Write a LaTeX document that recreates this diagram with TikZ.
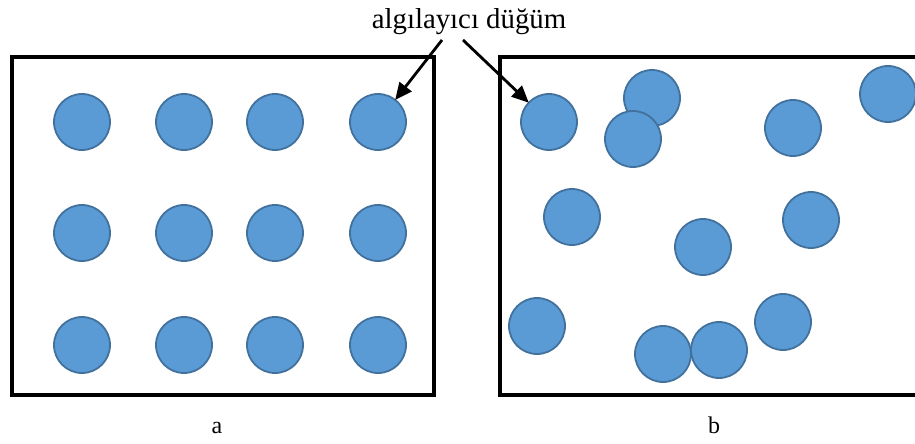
\documentclass[tikz,border=0pt]{standalone}
\usepackage{fontspec}
\setmainfont{Liberation Serif}
\usetikzlibrary{arrows.meta}
\definecolor{nodefill}{HTML}{5B9BD5}
\definecolor{nodeedge}{HTML}{41719C}
\tikzset{
  sensor/.style={circle, fill=nodefill, draw=nodeedge, line width=1.8pt, minimum size=56pt, inner sep=0pt},
  field/.style={draw=black, line width=4pt},
  pointer/.style={line width=2.8pt, -{Triangle[length=17pt,width=15pt]}, shorten >=-1pt},
  caption/.style={font=\fontsize{28.8}{32}\selectfont, inner sep=0pt, anchor=base},
  sublabel/.style={font=\fontsize{24}{28}\selectfont, inner sep=0pt, anchor=base}
}
\begin{document}
\begin{tikzpicture}[x=1pt,y=-1pt]
\useasboundingbox (0,0) rectangle (915,444);
\begin{scope}
\clip (0,0) rectangle (915,444);
% boxes
\draw[field] (12,57) rectangle (434,395);
\draw[field] (500,57) rectangle (940,395);
\end{scope}
% grid a
\foreach \c/\x in {1/82,2/184,3/275,4/378}{
  \foreach \r/\y in {1/122,2/233,3/345}{
    \node[sensor] (a\r\c) at (\x,\y) {};
  }
}
% random b
\node[sensor] (b1) at (549,122) {};
\node[sensor] (b2) at (652,98) {};
\node[sensor] (b3) at (633,139) {};
\node[sensor] (b4) at (793,128) {};
\node[sensor] (b5) at (888,94) {};
\node[sensor] (b6) at (572,217) {};
\node[sensor] (b7) at (703,247) {};
\node[sensor] (b8) at (811,220) {};
\node[sensor] (b9) at (537,326) {};
\node[sensor] (b10) at (663,354) {};
\node[sensor] (b11) at (719,350) {};
\node[sensor] (b12) at (783,322) {};
% label and arrows
\node[caption] (lbl) at (469,29) {algılayıcı düğüm};
\coordinate (s1) at (442,40);
\coordinate (s2) at (463,40);
\draw[pointer] (s1) -- (a14);
\draw[pointer] (s2) -- (b1);
\node[sublabel] (la) at (217,433) {a};
\node[sublabel] (lb) at (714,433) {b};
\end{tikzpicture}
\end{document}
